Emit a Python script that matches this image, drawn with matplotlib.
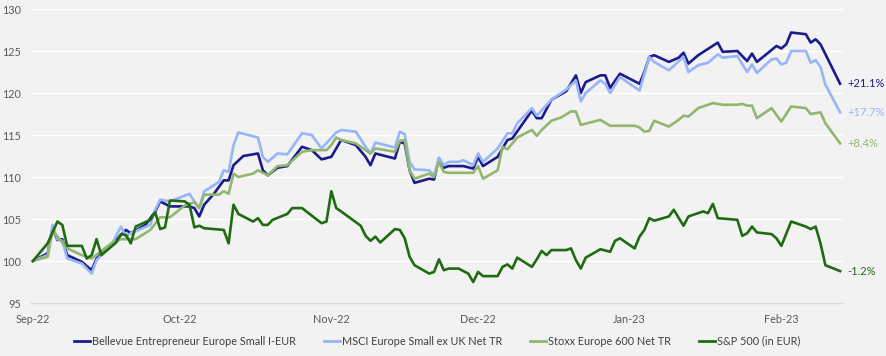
import matplotlib
matplotlib.use('Agg')
import matplotlib.pyplot as plt
import matplotlib.dates as mdates
import pandas as pd

# ---------------- data ----------------
START = pd.Timestamp('2022-09-01')   # day 0 of every *_day array

series_names = ['Bellevue Entrepreneur Europe Small I-EUR',
                'MSCI Europe Small ex UK Net TR',
                'Stoxx Europe 600 Net TR',
                'S&P 500 (in EUR)']
end_labels = ['+21.1%', '+17.7%', '+8.4%', '-1.2%']
y_ticks = [95, 100, 105, 110, 115, 120, 125, 130]

bel_day = [0, 3, 4, 5, 6, 7, 10, 12, 13, 16, 18, 19, 20, 23, 25, 26, 28, 32, 33, 34,
           35, 37, 39, 40, 41, 43, 46, 47, 48, 50, 52, 55, 57, 59, 61, 63, 66, 68, 69, 70,
           74, 75, 76, 77, 78, 81, 82, 83, 84, 85, 88, 90, 91, 92, 95, 97, 98, 102, 103, 104,
           106, 109, 111, 112, 113, 116, 117, 118, 120, 124, 125, 126, 127, 130, 132, 133, 134, 136, 140, 141,
           144, 146, 147, 148, 152, 153, 154, 155, 158, 159, 160, 161, 165]
bel_val = [100.0, 100.9, 103.9, 102.5, 102.6, 100.7, 99.9, 98.9, 100.3, 101.9, 103.1, 103.7, 103.3, 104.3, 105.9, 107.1, 106.5, 106.5, 106.3, 105.3,
           106.7, 108.0, 109.6, 109.6, 111.4, 112.5, 112.8, 110.8, 110.2, 111.1, 111.3, 113.6, 113.2, 112.1, 112.4, 114.4, 113.8, 112.4, 111.4, 112.8,
           112.2, 114.2, 114.0, 110.8, 109.3, 109.8, 109.7, 112.2, 111.1, 111.3, 111.3, 111.0, 112.4, 111.3, 112.4, 114.4, 114.6, 117.9, 117.0, 117.0,
           119.2, 120.2, 122.1, 120.0, 121.3, 122.1, 122.1, 120.6, 122.3, 121.1, 122.5, 124.3, 124.5, 123.7, 124.2, 124.8, 123.5, 124.5, 126.0, 124.9,
           125.0, 123.8, 124.7, 123.7, 125.6, 125.3, 125.8, 127.2, 127.0, 126.0, 126.4, 125.8, 121.1]

msci_day = [0, 3, 4, 5, 6, 7, 10, 12, 13, 16, 18, 19, 20, 24, 25, 26, 28, 32, 33, 34,
            35, 38, 39, 40, 41, 42, 46, 47, 48, 50, 52, 55, 57, 59, 62, 63, 66, 68, 69, 70,
            74, 75, 76, 77, 78, 81, 82, 83, 84, 85, 87, 88, 90, 91, 92, 95, 97, 98, 99, 102,
            103, 106, 109, 111, 112, 113, 116, 117, 118, 120, 124, 126, 127, 130, 133, 134, 136, 138, 140, 141,
            144, 146, 147, 148, 151, 152, 153, 154, 155, 158, 159, 160, 161, 162, 165]
msci_val = [100.0, 100.7, 104.3, 102.6, 102.4, 100.3, 99.7, 98.5, 100.1, 101.9, 104.1, 102.9, 103.3, 104.3, 106.1, 107.3, 107.1, 108.0, 107.1, 106.3,
            108.3, 109.4, 110.8, 110.6, 113.8, 115.3, 114.7, 112.4, 111.8, 112.8, 112.7, 115.2, 115.0, 113.4, 115.3, 115.6, 115.4, 113.6, 112.8, 114.1,
            113.5, 115.4, 115.1, 111.8, 110.9, 110.8, 110.2, 112.3, 111.4, 111.8, 111.8, 112.0, 111.4, 112.8, 111.8, 113.4, 115.2, 115.2, 116.4, 118.2,
            117.3, 119.2, 120.4, 121.5, 119.0, 120.0, 121.5, 121.1, 120.0, 121.9, 120.3, 124.3, 123.7, 122.7, 124.3, 122.5, 123.3, 123.6, 124.6, 124.2,
            124.4, 122.5, 123.4, 122.4, 124.0, 124.1, 123.4, 123.6, 125.0, 125.0, 123.6, 123.9, 123.1, 121.0, 117.7]

stx_day = [0, 3, 4, 7, 10, 12, 16, 18, 21, 24, 26, 28, 31, 33, 34, 35, 38, 39, 40, 41,
           42, 45, 46, 48, 50, 52, 55, 57, 60, 61, 62, 63, 66, 69, 70, 74, 75, 76, 77, 78,
           81, 82, 83, 84, 85, 88, 90, 91, 92, 95, 96, 97, 99, 102, 103, 104, 106, 108, 110, 111,
           112, 116, 118, 120, 123, 124, 125, 126, 127, 130, 132, 133, 134, 136, 137, 139, 141, 144, 145, 146,
           147, 148, 151, 153, 155, 158, 159, 161, 162, 165]
stx_val = [100.0, 100.5, 103.6, 101.5, 100.7, 100.3, 102.1, 102.6, 102.6, 103.7, 105.2, 105.2, 106.6, 107.0, 106.3, 107.9, 107.9, 108.3, 108.0, 110.4,
           110.0, 110.4, 110.8, 110.2, 111.3, 111.4, 113.0, 113.2, 113.2, 113.8, 114.7, 114.4, 114.0, 112.8, 113.4, 113.0, 114.3, 114.4, 110.8, 109.8,
           110.4, 110.0, 111.8, 110.6, 110.5, 110.5, 110.5, 111.3, 109.8, 110.8, 113.6, 113.3, 114.7, 115.6, 114.9, 115.6, 116.7, 117.1, 117.8, 117.8,
           116.2, 116.8, 116.1, 116.1, 116.1, 115.9, 115.4, 115.5, 116.7, 116.0, 116.8, 117.3, 117.2, 118.2, 118.4, 118.8, 118.6, 118.6, 118.7, 118.5,
           118.5, 117.0, 118.2, 116.6, 118.4, 118.2, 117.5, 117.7, 116.4, 114.0]

sp_day = [0, 3, 5, 6, 7, 10, 11, 12, 13, 14, 17, 18, 19, 20, 21, 24, 25, 26, 27, 28,
          31, 32, 33, 34, 35, 39, 40, 41, 42, 45, 46, 47, 48, 49, 52, 53, 55, 59, 60, 61,
          62, 63, 67, 68, 69, 70, 71, 74, 75, 76, 77, 78, 81, 82, 83, 84, 85, 87, 89, 90,
          91, 92, 95, 96, 97, 98, 99, 102, 103, 104, 105, 106, 109, 110, 111, 112, 113, 116, 118, 119,
          120, 123, 124, 125, 126, 127, 130, 131, 133, 134, 137, 138, 139, 140, 144, 145, 146, 147, 148, 151,
          152, 153, 155, 158, 159, 160, 161, 162, 165]
sp_val = [100.0, 102.1, 104.7, 104.3, 101.8, 101.8, 100.3, 100.7, 102.6, 100.7, 102.2, 103.2, 103.1, 102.1, 104.1, 104.9, 105.8, 103.8, 104.0, 107.2,
          107.1, 106.7, 104.0, 104.2, 103.9, 103.7, 102.1, 106.7, 105.6, 104.7, 105.1, 104.3, 104.3, 104.9, 105.6, 106.3, 106.3, 104.5, 104.7, 108.3,
          106.3, 105.9, 104.2, 103.0, 102.4, 102.9, 102.2, 103.8, 103.7, 102.7, 100.5, 99.5, 98.5, 98.7, 100.2, 98.9, 99.1, 99.1, 98.5, 97.5,
          98.7, 98.2, 98.2, 99.3, 99.6, 99.1, 100.4, 99.3, 100.2, 101.2, 100.7, 101.3, 101.3, 101.5, 100.1, 99.1, 100.4, 101.4, 101.1, 102.4,
          102.7, 101.5, 102.9, 103.7, 105.1, 104.8, 105.3, 106.1, 104.2, 105.3, 105.9, 105.7, 106.8, 105.1, 104.9, 103.0, 103.3, 104.1, 103.4, 103.2,
          102.7, 101.8, 104.7, 104.1, 103.8, 104.1, 102.1, 99.5, 98.8]

# ---------------- styling ----------------
colors = ['#1b1b8c', '#97b5f7', '#93b66f', '#1f6b12']
BG = '#f2f2f2'
TXT = '#595959'

plt.rcParams['font.family'] = ['Lato', 'DejaVu Sans']

fig = plt.figure(figsize=(8.87, 3.56), dpi=100, facecolor=BG)
ax = fig.add_axes([31 / 887, 53 / 356, 812 / 887, 294 / 356])
ax.set_facecolor(BG)

all_days = [bel_day, msci_day, stx_day, sp_day]
all_vals = [bel_val, msci_val, stx_val, sp_val]

for name, days, vals, col, lab in zip(series_names, all_days, all_vals, colors, end_labels):
    dates = START + pd.to_timedelta(days, unit='D')
    ax.plot(dates, vals, color=col, lw=1.9, label=name, zorder=3)
    ax.annotate(lab, xy=(dates[-1], vals[-1]), xytext=(5, 0), textcoords='offset points',
                ha='left', va='center', color=col, fontsize=8, annotation_clip=False)

ax.set_ylim(95, 130)
ax.set_yticks(y_ticks)
ax.set_xlim(START - pd.Timedelta(days=0.4), START + pd.Timedelta(days=165.6))
ax.xaxis.set_major_locator(mdates.MonthLocator())
ax.xaxis.set_major_formatter(mdates.DateFormatter('%b-%y'))

ax.grid(axis='y', color='white', lw=1.0, zorder=0)
ax.grid(axis='x', visible=False)
for s in ['top', 'right', 'left']:
    ax.spines[s].set_visible(False)
ax.spines['bottom'].set_color('#d9d9d9')
ax.spines['bottom'].set_linewidth(1.0)
ax.tick_params(axis='both', length=0, labelcolor=TXT, labelsize=7.8)
ax.tick_params(axis='y', pad=7)
ax.tick_params(axis='x', pad=8)

leg = ax.legend(loc='center', bbox_to_anchor=(0.5, -0.13), ncol=4, frameon=False,
                fontsize=7.8, handlelength=1.5, handletextpad=0.15, columnspacing=2.6)
for t in leg.get_texts():
    t.set_color('#404040')
for h in leg.get_lines():
    h.set_linewidth(2.0)

fig.savefig('out.png', dpi=100, facecolor=BG)
